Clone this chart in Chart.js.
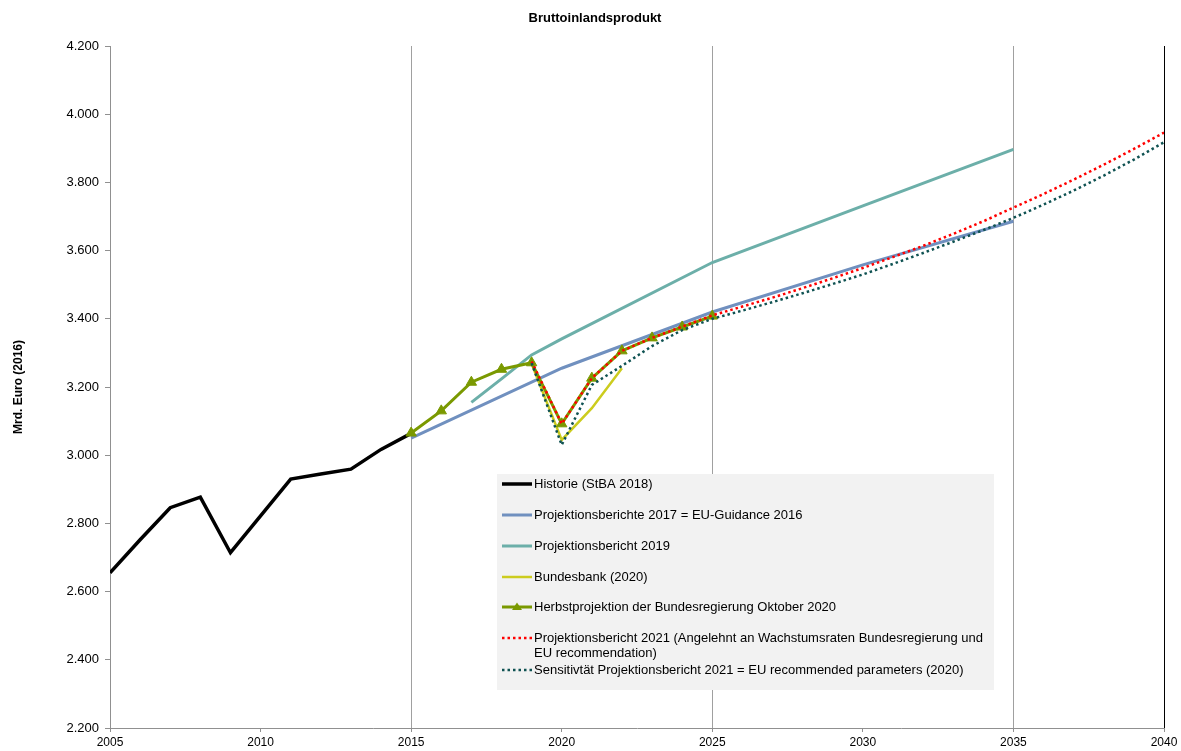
<!DOCTYPE html>
<html>
<head>
<meta charset="utf-8">
<script src="https://cdn.jsdelivr.net/npm/chart.js@4.4.1/dist/chart.umd.min.js"></script>
<style>
  html, body { margin: 0; padding: 0; background: #fff; }
  #wrap { width: 1181px; height: 751px; }
</style>
</head>
<body>
<div id="wrap"><canvas id="bipChart" width="1181" height="751"></canvas></div>
<script>
// Werte (Mrd. Euro, Preise 2016)
const histYears = [2005, 2006, 2007, 2008, 2009, 2010, 2011, 2012, 2013, 2014, 2015];
const histValues = [2655, 2752, 2846, 2877, 2714, 2822, 2930, 2945, 2959, 3017, 3064];

const pb2017Years = [2015, 2020, 2025, 2030, 2035];
const pb2017Values = [3050, 3255, 3420, 3558, 3686];

const pb2019Years = [2017, 2018, 2019, 2020, 2025, 2030, 2035];
const pb2019Values = [3155, 3224, 3294, 3341, 3565, 3731, 3897];

const bubaYears = [2019, 2020, 2021, 2022];
const bubaValues = [3268, 3045, 3138, 3255];

const herbstYears = [2015, 2016, 2017, 2018, 2019, 2020, 2021, 2022, 2023, 2024, 2025];
const herbstValues = [3065, 3130, 3214, 3252, 3271, 3092, 3226, 3306, 3344, 3376, 3408];

const pb2021Years = [2019, 2020, 2021, 2022, 2023, 2024, 2025, 2026, 2027, 2028, 2029, 2030,
                     2031, 2032, 2033, 2034, 2035, 2036, 2037, 2038, 2039, 2040];
const pb2021Values = [3275, 3092, 3226, 3306, 3344, 3377, 3410, 3436, 3462, 3490, 3519, 3549,
                      3581, 3614, 3649, 3686, 3726, 3766, 3808, 3852, 3898, 3946];

const sensYears = pb2021Years;
const sensValues = [3270, 3030, 3206, 3262, 3320, 3367, 3400, 3424, 3449, 3475, 3502, 3530,
                    3561, 3593, 3626, 3660, 3696, 3735, 3776, 3820, 3867, 3918];

const yTicks = [2200, 2400, 2600, 2800, 3000, 3200, 3400, 3600, 3800, 4000, 4200];

const pts = (xs, ys) => xs.map((x, i) => ({ x: x, y: ys[i] }));

// Titel + Legende (graue Box im Diagramm)
const boxLegend = {
  id: 'boxLegend',
  afterDraw(chart) {
    const c = chart.ctx;
    c.save();
    c.fillStyle = '#000';
    c.textAlign = 'center';
    c.textBaseline = 'middle';
    c.font = 'bold 13px "Liberation Sans", Arial, sans-serif';
    c.fillText('Bruttoinlandsprodukt', 595, 18);

    const x0 = 497, y0 = 474, w = 497, h = 216;
    c.fillStyle = '#f2f2f2';
    c.fillRect(x0, y0, w, h);
    c.textAlign = 'left';
    c.font = '13px "Liberation Sans", Arial, sans-serif';
    c.fillStyle = '#000';
    const rows = [484, 515, 546, 577, 607, 638, 670];
    chart.data.datasets.forEach((ds, i) => {
      const y = rows[i];
      c.save();
      c.strokeStyle = ds.borderColor;
      c.lineWidth = ds.borderWidth;
      c.setLineDash(ds.borderDash || []);
      c.beginPath();
      c.moveTo(502, y);
      c.lineTo(532, y);
      c.stroke();
      if (ds.pointStyle === 'triangle') {
        c.setLineDash([]);
        c.fillStyle = ds.borderColor;
        c.beginPath();
        c.moveTo(517, y - 4.5);
        c.lineTo(522, y + 3);
        c.lineTo(512, y + 3);
        c.closePath();
        c.fill();
      }
      c.restore();
      const lines = String(ds.label).split('\n');
      lines.forEach((t, k) => c.fillText(t, 534, y + k * 15.5));
    });
    c.restore();
  }
};

const ctx = document.getElementById('bipChart');

new Chart(ctx, {
  type: 'line',
  data: {
    datasets: [
      {
        label: 'Historie (StBA 2018)',
        data: pts(histYears, histValues),
        borderColor: '#000000', borderWidth: 3.5, pointRadius: 0, order: 7
      },
      {
        label: 'Projektionsberichte 2017 = EU-Guidance 2016',
        data: pts(pb2017Years, pb2017Values),
        borderColor: '#7090bf', borderWidth: 3, pointRadius: 0, order: 6
      },
      {
        label: 'Projektionsbericht 2019',
        data: pts(pb2019Years, pb2019Values),
        borderColor: '#6cafa9', borderWidth: 3, pointRadius: 0, order: 5
      },
      {
        label: 'Bundesbank (2020)',
        data: pts(bubaYears, bubaValues),
        borderColor: '#cccc1e', borderWidth: 2.5, pointRadius: 0, order: 4
      },
      {
        label: 'Herbstprojektion der Bundesregierung Oktober 2020',
        data: pts(herbstYears, herbstValues),
        borderColor: '#7a9900', backgroundColor: '#7a9900', borderWidth: 3,
        pointStyle: 'triangle', pointRadius: 6, pointBorderWidth: 1, order: 3
      },
      {
        label: 'Projektionsbericht 2021 (Angelehnt an Wachstumsraten Bundesregierung und\nEU recommendation)',
        data: pts(pb2021Years, pb2021Values),
        borderColor: '#ff0000', borderWidth: 2.5, borderDash: [2.5, 3], pointRadius: 0, order: 2
      },
      {
        label: 'Sensitivtät Projektionsbericht 2021 = EU recommended parameters (2020)',
        data: pts(sensYears, sensValues),
        borderColor: '#0f5252', borderWidth: 2.5, borderDash: [2.5, 3], pointRadius: 0, order: 1
      }
    ]
  },
  options: {
    responsive: false,
    animation: false,
    layout: { padding: { top: 46, right: 17, bottom: 0, left: 0 } },
    plugins: {
      legend: { display: false },
      tooltip: { enabled: false },
      title: { display: false }
    },
    scales: {
      x: {
        type: 'linear',
        min: 2005, max: 2040,
        ticks: {
          stepSize: 5,
          color: '#000',
          padding: 3,
          maxRotation: 0,
          font: { family: '"Liberation Sans", Arial, sans-serif', size: 12 },
          callback: (v) => String(v)
        },
        grid: {
          drawOnChartArea: true,
          tickLength: 4,
          lineWidth: 1,
          color: (c) => {
            const v = c.tick ? c.tick.value : null;
            if (v === 2040) return '#000000';
            return (v - 2005) % 10 === 0 ? '#a0a0a0' : 'rgba(0,0,0,0)';
          },
          tickColor: '#909090'
        },
        border: { color: '#909090', width: 1 },
        afterFit: (s) => { s.height = 23; }
      },
      y: {
        min: 2200, max: 4200,
        afterBuildTicks: (s) => { s.ticks = yTicks.map(v => ({ value: v })); },
        ticks: {
          color: '#000',
          padding: 6,
          font: { family: '"Liberation Sans", Arial, sans-serif', size: 13 },
          callback: (v) => String(v).replace(/(\d)(?=(\d{3})+$)/, '$1.')
        },
        grid: { drawOnChartArea: false, tickLength: 5, tickColor: '#909090' },
        border: { color: '#909090', width: 1 },
        title: {
          display: true,
          text: 'Mrd. Euro (2016)',
          color: '#000',
          font: { family: '"Liberation Sans Narrow", "Liberation Sans", Arial, sans-serif', size: 12, weight: 'bold' },
          padding: { top: 11, bottom: 0 }
        },
        afterFit: (s) => { s.width = 110; }
      }
    }
  },
  plugins: [boxLegend]
});
</script>
</body>
</html>
